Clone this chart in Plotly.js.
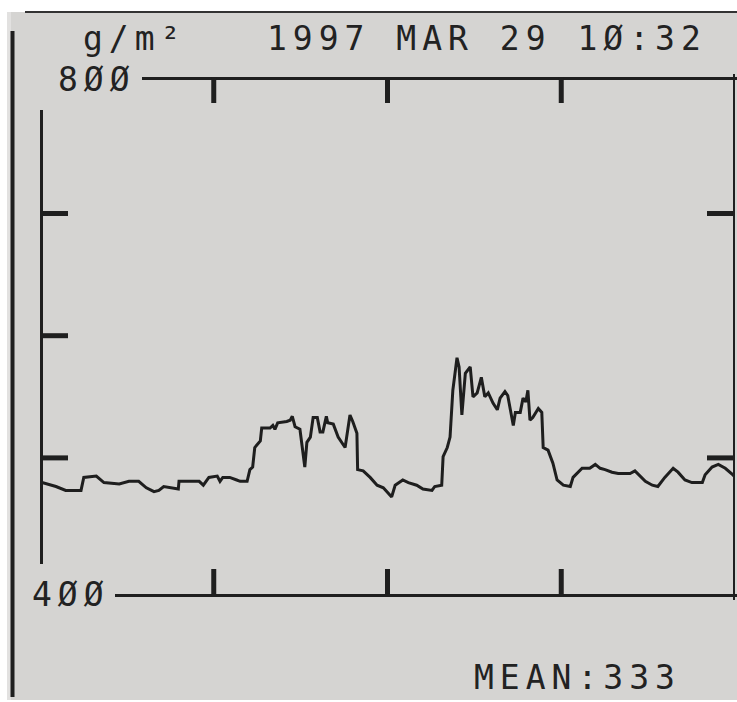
<!DOCTYPE html>
<html><head><meta charset="utf-8">
<script src="https://cdn.plot.ly/plotly-3.0.1.min.js"></script>
<style>
html,body{margin:0;padding:0;background:#fff;}
#chart{width:737px;height:702px;}
.annotation-text{letter-spacing:6px;}
</style></head><body><div id="chart"></div>
<script>
// ---- data ----
const t = [0,0.3,2.3,3.7,5.9,6.3,8.1,9.2,11.4,12.8,14.2,15.3,16.4,17.1,17.8,19.1,19.9,20.0,22.9,23.5,24.3,25.5,25.9,26.3,27.3,28.3,28.8,29.8,30.2,30.6,30.9,31.7,31.9,33.1,33.5,33.8,34.2,35.5,36.0,36.3,36.7,37.4,38.1,38.4,38.9,39.3,39.9,40.3,40.7,41.2,41.4,42.2,42.9,43.9,44.6,45.0,45.6,45.7,46.5,47.5,48.5,49.4,50.6,51.1,52.2,53.0,54.2,55.1,56.4,56.8,57.8,58.0,58.6,59.0,59.4,60.0,60.3,60.7,61.2,61.9,62.3,62.9,63.5,64.0,64.5,65.2,65.8,66.2,66.9,67.3,68.1,68.4,69.1,69.5,69.9,70.2,70.5,70.9,71.7,72.2,72.4,73.1,73.8,74.4,75.3,76.3,76.7,78.0,79.1,79.9,80.6,81.3,82.3,83.2,84.9,85.6,86.0,87.1,88.1,88.9,89.9,91.1,91.8,92.8,93.8,95.3,95.7,96.7,97.6,98.6,99.7,100];
const density = [488,488,485,482,482,492,493,488,487,489,489,484,481,482,485,484,483,489,489,486,492,493,489,492,492,490,489,489,498,500,515,520,530,530,532,529,534,535,536,539,531,529,500,519,523,538,538,527,527,539,534,533,523,515,540,535,526,498,497,492,486,484,477,486,490,488,486,483,482,485,486,508,515,523,559,584,577,540,572,577,554,557,569,554,557,549,544,553,558,555,532,542,542,553,550,559,536,538,545,542,515,513,503,490,486,485,492,499,499,502,499,498,496,495,495,497,495,489,486,485,492,499,496,490,488,488,494,500,502,499,494,492];
const xTicks = [25,50,75];
const yTicksLeft = [695,601,507];
const yTicksRight = [695,507];
const yLabelText = ['8ØØ','4ØØ'];
const unitLabel = 'g/m²';
const stamp = '1997 MAR 29 1Ø:32';
const meanLabel = 'MEAN:333';

// ---- layout geometry (pixels) ----
const W=737,H=702,L=40,R=735,T=77,B=597;
const px = x => (x-L)/(R-L);
const py = y => (B-y)/(B-T);
const ink = '#1f1f1f';
const txt = '#222222';
const font = {family:'DejaVu Sans Mono', size:33, color:txt};

const shapes = [
  {type:'rect', xref:'paper', yref:'paper', x0:px(7), x1:px(737), y0:py(700), y1:py(12), fillcolor:'#d5d4d2', line:{width:0}, layer:'below'},
  {type:'rect', xref:'paper', yref:'paper', x0:px(7), x1:px(11), y0:py(700), y1:py(12), fillcolor:'#e2e1e0', line:{width:0}, layer:'below'},
  {type:'line', xref:'paper', yref:'paper', x0:px(25), x1:px(737), y0:py(12), y1:py(12), line:{color:'#333', width:2}},
  {type:'line', xref:'paper', yref:'paper', x0:px(12.5), x1:px(12.5), y0:py(31), y1:py(697), line:{color:ink, width:4}},
  // frame
  {type:'line', xref:'paper', yref:'y', x0:px(142), x1:px(737), y0:800, y1:800, line:{color:ink, width:6}},
  {type:'line', xref:'paper', yref:'y', x0:px(115), x1:px(737), y0:400, y1:400, line:{color:ink, width:6}},
  {type:'line', xref:'x', yref:'paper', x0:0, x1:0, y0:py(564), y1:py(110), line:{color:ink, width:6}},
  {type:'line', xref:'x', yref:'paper', x0:100, x1:100, y0:py(600), y1:py(74), line:{color:ink, width:4}}
];
xTicks.forEach(v=>{
  shapes.push({type:'line', xref:'x', yref:'y', ysizemode:'pixel', yanchor:800, x0:v, x1:v, y0:0, y1:-26, line:{color:ink, width:5}});
  shapes.push({type:'line', xref:'x', yref:'y', ysizemode:'pixel', yanchor:400, x0:v, x1:v, y0:0, y1:28, line:{color:ink, width:5}});
});
yTicksLeft.forEach(v=>{
  shapes.push({type:'line', xref:'x', yref:'y', xsizemode:'pixel', xanchor:0, x0:0, x1:28, y0:v, y1:v, line:{color:ink, width:5}});
});
yTicksRight.forEach(v=>{
  shapes.push({type:'line', xref:'x', yref:'y', xsizemode:'pixel', xanchor:100, x0:-28, x1:0, y0:v, y1:v, line:{color:ink, width:5}});
});

const ann = (text, x, y, extra) => Object.assign({text, xref:'paper', yref:'paper', x:px(x), y:py(y), showarrow:false, xanchor:'center', yanchor:'middle', font, xshift:3}, extra||{});
const annotations = [
  ann(unitLabel, 131, 38.5),
  ann(stamp, 484, 38.5),
  ann(yLabelText[0], 93.5, 79),
  ann(yLabelText[1], 67.5, 594),
  ann(meanLabel, 574.5, 677.5)
];

const data = [{
  x: t, y: density, type:'scatter', mode:'lines',
  line:{color:'#1e1e1e', width:3}, hoverinfo:'skip'
}];

const layout = {
  width:W, height:H,
  margin:{l:L, r:W-R, t:T, b:H-B, pad:0},
  paper_bgcolor:'#ffffff', plot_bgcolor:'rgba(0,0,0,0)',
  showlegend:false,
  xaxis:{range:[0,100], visible:false, fixedrange:true},
  yaxis:{range:[400,800], visible:false, fixedrange:true},
  shapes, annotations
};
Plotly.newPlot('chart', data, layout, {staticPlot:true, displayModeBar:false});
</script></body></html>
